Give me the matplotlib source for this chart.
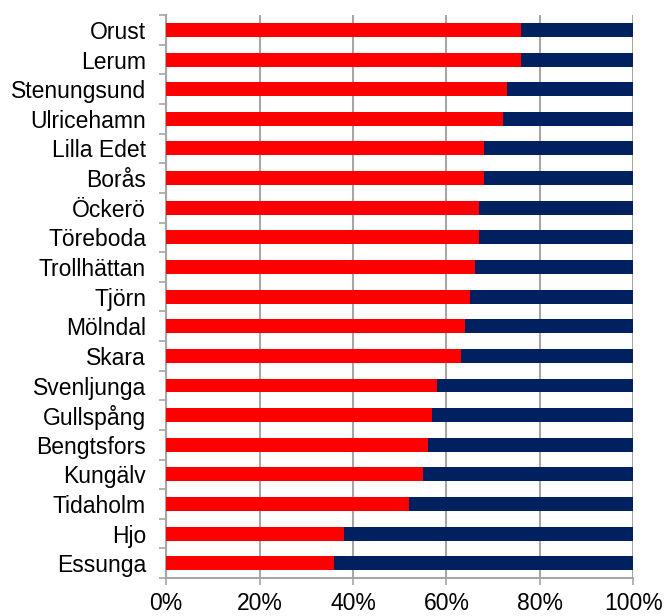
import matplotlib
matplotlib.use("Agg")
import matplotlib.pyplot as plt
from matplotlib.ticker import PercentFormatter

plt.rcParams['font.family'] = ['Liberation Sans', 'DejaVu Sans']

# municipalities, top to bottom, with share in percent (red part)
municipalities = ["Orust", "Lerum", "Stenungsund", "Ulricehamn", "Lilla Edet",
                  "Borås", "Öckerö", "Töreboda", "Trollhättan", "Tjörn",
                  "Mölndal", "Skara", "Svenljunga", "Gullspång", "Bengtsfors",
                  "Kungälv", "Tidaholm", "Hjo", "Essunga"]
share_red = [76, 76, 73, 72, 68, 68, 67, 67, 66, 65, 64, 63, 58, 57, 56, 55, 52, 38, 36]
share_blue = [100 - v for v in share_red]

RED, NAVY, GRID = "#ff0000", "#002060", "#a6a6a6"

fig = plt.figure(figsize=(6.66, 6.16), dpi=100)
ax = fig.add_axes([0.2495, 0.0615, 0.7015, 0.914])

ypos = list(range(len(municipalities)))[::-1]
ax.barh(ypos, share_red, height=0.47, color=RED, zorder=3)
ax.barh(ypos, share_blue, left=share_red, height=0.47, color=NAVY, zorder=3)

ax.set_xlim(0, 100)
ax.set_ylim(-0.5, len(municipalities) - 0.5)
ax.set_xticks(range(0, 101, 20))
ax.xaxis.set_major_formatter(PercentFormatter(decimals=0))
ax.set_yticks(ypos)
ax.set_yticklabels(municipalities)
# category boundary ticks on the left spine
ax.set_yticks([y - 0.5 for y in range(len(municipalities) + 1)], minor=True)
ax.tick_params(axis="y", which="major", length=0, pad=14.5, labelsize=16.5)
ax.tick_params(axis="y", which="minor", length=5, width=1.2, color=GRID)
ax.tick_params(axis="x", length=5, width=1.2, color=GRID, labelsize=16.5, pad=5)

ax.grid(axis="x", color=GRID, linewidth=1.5, zorder=0)
for side in ("top", "right"):
    ax.spines[side].set_visible(False)
for side in ("left", "bottom"):
    ax.spines[side].set_color(GRID)
    ax.spines[side].set_linewidth(1.5)

fig.savefig("out.png", dpi=100)
